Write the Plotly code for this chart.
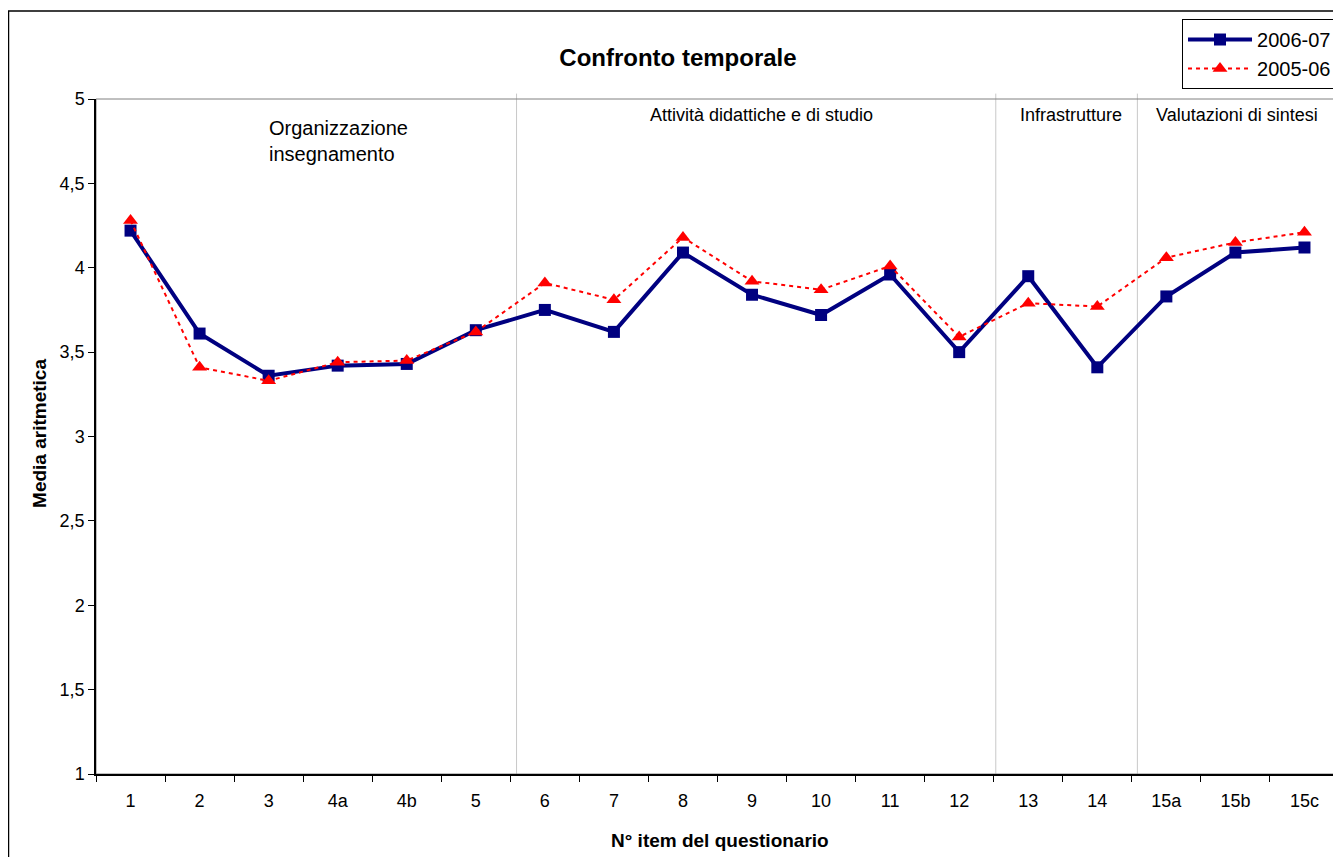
import plotly.graph_objects as go

ITEMS = ["1", "2", "3", "4a", "4b", "5", "6", "7", "8", "9", "10", "11",
         "12", "13", "14", "15a", "15b", "15c"]
MEDIA_2006_07 = [4.22, 3.61, 3.36, 3.42, 3.43, 3.63, 3.75, 3.62, 4.09, 3.84,
                 3.72, 3.96, 3.50, 3.95, 3.41, 3.83, 4.09, 4.12]
MEDIA_2005_06 = [4.28, 3.41, 3.33, 3.44, 3.45, 3.62, 3.91, 3.81, 4.18, 3.92,
                 3.87, 4.01, 3.59, 3.79, 3.77, 4.06, 4.15, 4.21]
SEPARATORI = [5.59, 12.53, 14.58]
SEZIONI = ["Organizzazione<br>insegnamento", "Attività didattiche e di studio",
           "Infrastrutture", "Valutazioni di sintesi"]
SEZIONI_X = [1.98, 9.13, 13.62, 16.03]
Y_TICKS = [1, 1.5, 2, 2.5, 3, 3.5, 4, 4.5, 5]

FONT = "Arial, Liberation Sans, sans-serif"

fig = go.Figure()
fig.add_trace(go.Scatter(
    x=ITEMS, y=MEDIA_2006_07, name="2006-07", mode="lines+markers",
    line=dict(color="#000080", width=4),
    marker=dict(symbol="square", size=12, color="#000080"),
))
fig.add_trace(go.Scatter(
    x=ITEMS, y=MEDIA_2005_06, name="2005-06", mode="lines+markers",
    line=dict(color="#ff0000", width=2, dash="4px,4px"),
    marker=dict(symbol="triangle-up", size=13, color="#ff0000"),
))

# separatori verticali tra le sezioni
for xs in SEPARATORI:
    fig.add_shape(type="line", xref="x", yref="paper", x0=xs, x1=xs, y0=0, y1=1.008,
                  line=dict(color="#c8c8c8", width=1), layer="below")

# bordo area grafico e bordo esterno
fig.add_shape(type="rect", xref="paper", yref="paper", x0=0, x1=1, y0=0, y1=1,
              line=dict(color="#808080", width=1), layer="below")
fig.add_shape(type="rect", xref="paper", yref="paper", x0=-0.0704, x1=1.05,
              y0=-0.3, y1=1.1304, line=dict(color="black", width=1.5))

for i, (testo, xs) in enumerate(zip(SEZIONI, SEZIONI_X)):
    if i == 0:
        fig.add_annotation(x=xs, y=4.754, text=testo, showarrow=False,
                           xanchor="left", yanchor="middle", align="left",
                           font=dict(size=20, color="black", family=FONT))
    else:
        fig.add_annotation(x=xs, y=4.905, text=testo, showarrow=False,
                           xanchor="center", yanchor="middle",
                           font=dict(size=18, color="black", family=FONT))

fig.add_annotation(xref="paper", yref="paper", x=0.502, y=-0.0978,
                   text="<b>N° item del questionario</b>", showarrow=False,
                   xanchor="center", yanchor="middle",
                   font=dict(size=19, color="black", family=FONT))
fig.add_annotation(xref="paper", yref="paper", x=-0.046, y=0.505,
                   text="<b>Media aritmetica</b>", showarrow=False, textangle=-90,
                   xanchor="center", yanchor="middle",
                   font=dict(size=19, color="black", family=FONT))

# la pagina ha un margine di 8px: la figura e' spostata di conseguenza
fig.update_layout(
    width=1333, height=849,
    margin=dict(l=88, r=2, t=91, b=83),
    paper_bgcolor="white", plot_bgcolor="white",
    separators=", ",
    font=dict(family=FONT, size=18, color="black"),
    title=dict(text="<b>Confronto temporale</b>", x=0.5026, xref="container",
               y=1 - 50 / 849, yref="container", xanchor="center", yanchor="middle",
               font=dict(size=24, family=FONT, color="black")),
    legend=dict(x=0.9984, y=1.1185, xanchor="right", yanchor="top",
                bordercolor="black", borderwidth=1, bgcolor="white",
                font=dict(size=20, family=FONT, color="black"),
                tracegroupgap=0, itemwidth=64),
    showlegend=True,
)
fig.update_xaxes(type="category", tickson="boundaries", ticks="outside", ticklen=6,
                 tickcolor="black", showline=True, linecolor="black", linewidth=1.5,
                 showgrid=False, zeroline=False, range=[-0.5, 17.5],
                 ticklabelstandoff=10,
                 tickfont=dict(size=18, family=FONT, color="black"))
fig.update_yaxes(range=[1, 5], tickvals=Y_TICKS, ticks="outside", ticklen=6,
                 tickcolor="black", showline=True, linecolor="black", linewidth=1.5,
                 showgrid=False, zeroline=False,
                 tickfont=dict(size=18, family=FONT, color="black"))

fig.write_html("out.html")
